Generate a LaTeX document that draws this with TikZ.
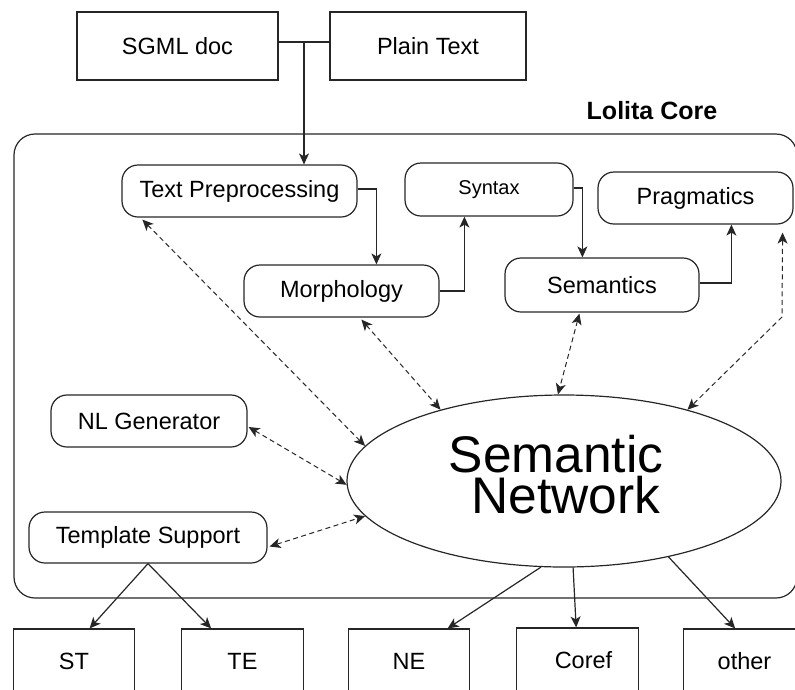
\documentclass[tikz,border=0pt]{standalone}
\usepackage{fontspec}
\setmainfont{Liberation Sans}
\usetikzlibrary{arrows.meta,calc,shapes.geometric}

\tikzset{
  ln/.style={line width=1.2pt, draw=black!85},
  sqbox/.style={ln, rectangle, inner sep=0pt, font=\fontsize{23.5}{28}\selectfont},
  outbox/.style={sqbox, minimum width=121.5, minimum height=64},
  rbox/.style={ln, rectangle, rounded corners=16pt, inner sep=0pt, font=\fontsize{23.5}{28}\selectfont},
  bigtext/.style={anchor=base, inner sep=0pt, font=\fontsize{51.5}{44}\selectfont},
  arr/.style={ln, -{Stealth[length=11pt,width=10pt,inset=3pt]}},
  darr/.style={line width=1pt, draw=black!85, dash pattern=on 5pt off 3.5pt,
    {Stealth[length=11pt,width=10pt,inset=3pt]}-{Stealth[length=11pt,width=10pt,inset=3pt]}},
}

\begin{document}
\begin{tikzpicture}[x=1pt,y=-1pt]
\useasboundingbox (0,0) rectangle (795,689);
\begin{scope}
\clip (0,0) rectangle (795,689);

% input documents
\node[sqbox, minimum width=201, minimum height=68] (sgml) at (177.5,46) {SGML doc};
\node[sqbox, minimum width=196, minimum height=68] (plain) at (428,46) {Plain Text};

% core container and its title
\draw[ln, rounded corners=21pt] (14,134) rectangle (797,598);
\node[font=\fontsize{25}{30}\selectfont\bfseries] (core) at (652,111) {Lolita Core};

% processing stages
\node[rbox, minimum width=235, minimum height=52] (tp) at (239.5,191) {Text Preprocessing};
\node[rbox, minimum width=195, minimum height=52] (morph) at (341.5,291) {Morphology};
\node[rbox, minimum width=168, minimum height=53, font=\fontsize{20}{24}\selectfont] (syn) at (489,189.5) {Syntax};
\node[rbox, minimum width=194, minimum height=54] (sem) at (602,285) {Semantics};
\node[rbox, minimum width=195, minimum height=52] (prag) at (695.5,198) {Pragmatics};
\node[rbox, minimum width=196, minimum height=52] (nlg) at (149,421) {NL Generator};
\node[rbox, minimum width=238, minimum height=51] (tsup) at (148,537.5) {Template Support};

% central semantic network
\node[ln, ellipse, minimum width=434, minimum height=172, inner sep=0pt] (sn) at (564,481) {};
\node[bigtext] (snt1) at (556,472) {Semantic};
\node[bigtext] (snt2) at (566,513) {Network};

% output tasks (running off the lower edge)
\node[outbox] (st) at (74,661) {ST};
\node[outbox] (te) at (242.5,661) {TE};
\node[outbox] (ne) at (409,661) {NE};
\node[outbox] (coref) at (577.5,660) {\hspace*{12pt}Coref};
\node[outbox] (other) at (744.5,661) {other};

% input merge into preprocessing
\coordinate (join) at (304,42);
\draw[ln] ($(sgml.east)+(0,-4)$) -- ($(plain.west)+(0,-4)$);
\draw[arr] (join) -- (join |- tp.north);

% pipeline
\draw[arr] ($(tp.east)+(0,-2)$) -| ($(morph.north west)+(133,0)$);
\draw[arr] (morph.east) -| ($(syn.south west)+(60,0)$);
\draw[arr] ($(syn.east)+(0,-1.5)$) -| ($(sem.north west)+(78,0)$);
\draw[arr] ($(sem.east)+(0,-2)$) -| ($(prag.south west)+(134,0)$);

% links to the semantic network
\draw[darr] ($(tp.south west)+(21,2)$) -- (sn.170);
\draw[darr] ($(morph.south west)+(118,2)$) -- (sn.150.6);
\draw[darr] ($(sem.south west)+(75,1)$) -- (sn.94);
\coordinate (pbend) at (782,317);
\draw[darr] ($(prag.south east)+(-11,8)$) -- (pbend) -- (sn.30.7);
\draw[darr] ($(nlg.east)+(1,6)$) -- (sn.181.3);
\draw[darr] ($(tsup.east)+(2,9)$) -- (sn.190.2);

% outputs
\draw[arr] (tsup.south) -- ($(st.north west)+(77,0)$);
\draw[arr] (tsup.south) -- ($(te.north west)+(30,0)$);
\draw[arr] (sn.255.8) -- ($(ne.north west)+(100,0)$);
\draw[arr] (sn.276) -- ($(coref.north west)+(60,0)$);
\draw[arr] (sn.324.2) -- ($(other.north west)+(52,0)$);
\end{scope}
\end{tikzpicture}
\end{document}
